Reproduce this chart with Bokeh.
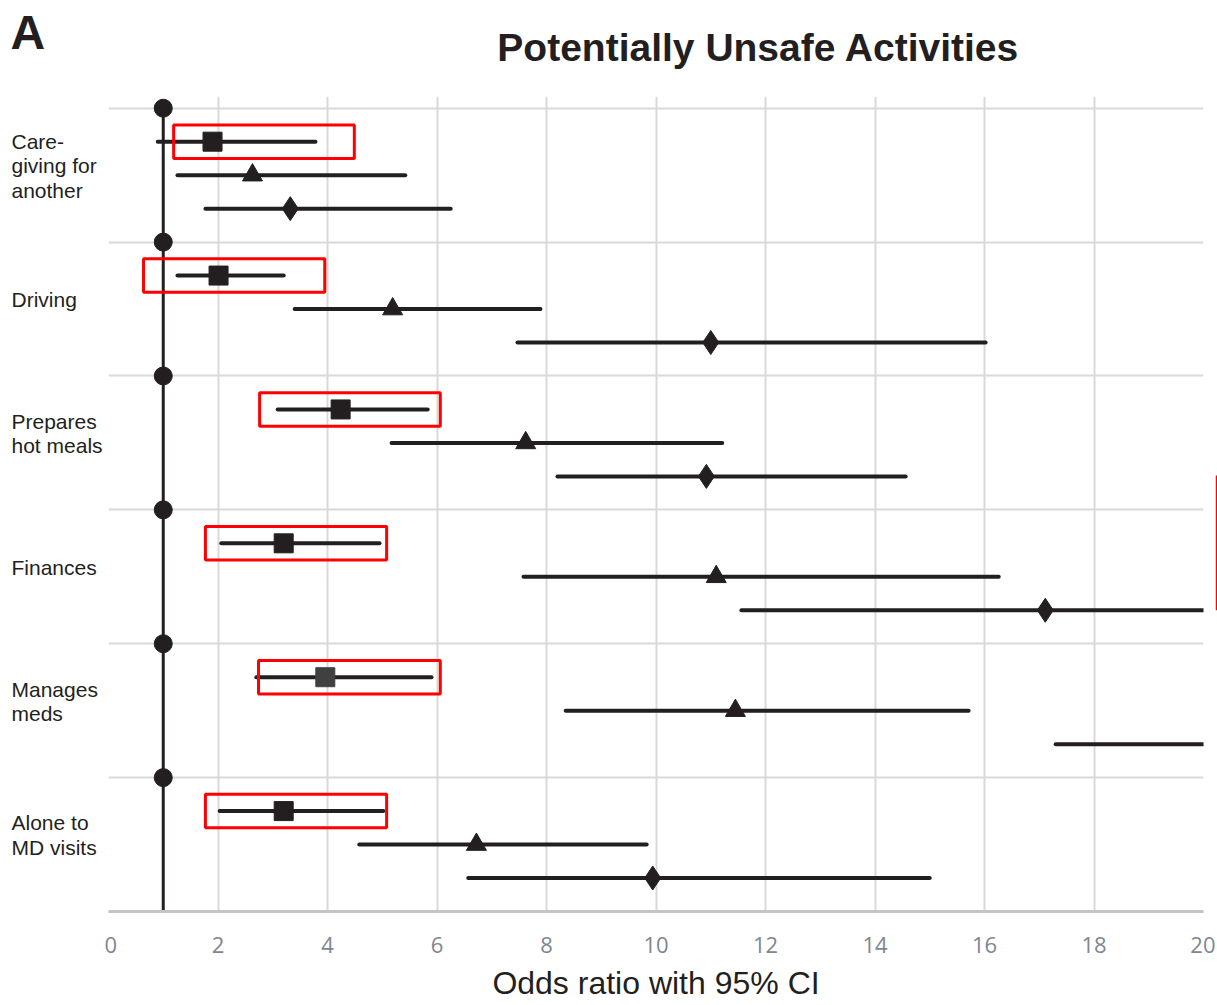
from bokeh.plotting import figure
from bokeh.layouts import column, row
from bokeh.models import ColumnDataSource, FixedTicker, Range1d
from bokeh.embed import file_html
from bokeh.resources import INLINE
from bokeh.core.properties import value

# ---- data ----
activities = ["Care-\ngiving for\nanother", "Driving", "Prepares\nhot meals",
              "Finances", "Manages\nmeds", "Alone to\nMD visits"]
ref_or = 1.0
sq_or = [1.90, 2.01, 4.24, 3.20, 3.96, 3.20]
sq_lo = [0.90, 1.26, 3.09, 2.06, 2.70, 2.03]
sq_hi = [3.78, 3.20, 5.83, 4.95, 5.90, 5.02]
tri_or = [2.63, 5.19, 7.62, 11.10, 11.45, 6.72]
tri_lo = [1.26, 3.40, 5.17, 7.58, 8.35, 4.58]
tri_hi = [5.42, 7.89, 11.21, 16.26, 15.71, 9.83]
dia_or = [3.32, 11.00, 10.92, 17.11, 24.00, 9.94]
dia_lo = [1.77, 7.47, 8.20, 11.56, 17.30, 6.57]
dia_hi = [6.25, 16.02, 14.56, 25.00, 36.00, 15.00]
# red highlight boxes around the first series
box_lo = [1.19, 0.64, 2.76, 1.77, 2.74, 1.77]
box_hi = [4.49, 3.95, 6.06, 5.08, 6.06, 5.08]
x_ticks = [0, 2, 4, 6, 8, 10, 12, 14, 16, 18, 20]
title_text = "Potentially Unsafe Activities"
panel_letter = "A"
x_label = "Odds ratio with 95% CI"

n = len(activities)
group_top = [4 * (n - i) for i in range(n)]          # 24, 20, ... 4
row_sq = [g - 1 for g in group_top]
row_tri = [g - 2 for g in group_top]
row_dia = [g - 3 for g in group_top]

INK = "#231f20"
FONT = "Liberation Sans"
HEADER_H = 96
BOTTOM = 94
MAIN_H = 815 + BOTTOM
LEFT_W = 104
MAIN_BL = 4
MAIN_BR = 12
RIGHT_W = 2
MAIN_W = 1217 - LEFT_W - RIGHT_W   # frame of 1095 px for 0..20

def bare(fig):
    fig.outline_line_color = None
    fig.xaxis.visible = False
    fig.yaxis.visible = False
    fig.xgrid.visible = False
    fig.ygrid.visible = False
    fig.background_fill_color = "white"
    fig.border_fill_color = "white"
    return fig

yr = Range1d(0, 24.35)

# ---- header: panel letter and title ----
head = bare(figure(width=1217, height=HEADER_H, output_backend="svg", toolbar_location=None,
                   x_range=Range1d(0, 1217), y_range=Range1d(0, HEADER_H),
                   min_border=0))
head.text(x=[10], y=[HEADER_H - 32], text=[panel_letter], text_align="left",
          text_baseline="middle", text_font=value(FONT), text_font_size="48px",
          text_font_style="bold", text_color=INK)
head.text(x=[758], y=[HEADER_H - 47], text=[title_text], text_align="center",
          text_baseline="middle", text_font=value(FONT), text_font_size="39px",
          text_font_style="bold", text_color=INK)

# ---- left: category labels ----
left = bare(figure(width=LEFT_W, height=MAIN_H, output_backend="svg", toolbar_location=None,
                   x_range=Range1d(0, LEFT_W), y_range=yr,
                   min_border_left=0, min_border_right=0, min_border_top=0,
                   min_border_bottom=BOTTOM))
left.text(x=[11] * n, y=[r + 0.28 for r in row_tri], text=activities, text_align="left",
          text_baseline="middle", text_font=value(FONT), text_font_size="21px",
          text_color=INK, text_line_height=1.066)

# ---- main plot ----
p = figure(width=MAIN_W, height=MAIN_H, output_backend="svg", toolbar_location=None,
           x_range=Range1d(0, 20), y_range=yr,
           min_border_left=MAIN_BL, min_border_right=MAIN_BR, min_border_top=0,
           min_border_bottom=BOTTOM)
p.outline_line_color = None
p.background_fill_color = "white"
p.border_fill_color = "white"
p.yaxis.visible = False
p.ygrid.ticker = FixedTicker(ticks=[0, 4, 8, 12, 16, 20, 24])
p.xaxis.ticker = FixedTicker(ticks=x_ticks)
p.xgrid.ticker = FixedTicker(ticks=x_ticks)
for g in (p.xgrid, p.ygrid):
    g.grid_line_color = "#d9d9d9"
    g.grid_line_width = 2

ax = p.xaxis[0]
ax.axis_line_color = "#c4c4c4"
ax.axis_line_width = 3
ax.major_tick_line_color = None
ax.minor_tick_line_color = None
ax.major_tick_out = 0
ax.major_tick_in = 0
ax.major_label_standoff = 25
ax.major_label_text_font = "Open Sans"
ax.major_label_text_font_size = "22px"
ax.major_label_text_color = "#7f8690"
ax.axis_label = x_label
ax.axis_label_text_font = FONT
ax.axis_label_text_font_size = "32px"
ax.axis_label_text_font_style = "normal"
ax.axis_label_text_color = INK
ax.axis_label_standoff = 9

# reference line at OR = 1 with circles
p.segment(x0=[ref_or], y0=[0], x1=[ref_or], y1=[24], line_color=INK, line_width=3)
p.scatter(x=[ref_or] * n, y=group_top, size=18, marker="circle", fill_color=INK, line_color=INK)

sq_colors = [INK, INK, INK, INK, "#404040", INK]
src_sq = ColumnDataSource(dict(orv=sq_or, lo=sq_lo, hi=sq_hi, y=row_sq, c=sq_colors))
src_tri = ColumnDataSource(dict(orv=tri_or, lo=tri_lo, hi=tri_hi, y=row_tri))
src_dia = ColumnDataSource(dict(orv=dia_or, lo=dia_lo, hi=dia_hi, y=row_dia))
for src in (src_sq, src_tri, src_dia):
    p.segment(x0="lo", y0="y", x1="hi", y1="y", source=src,
              line_color=INK, line_width=4, line_cap="round")
p.scatter(x="orv", y="y", source=src_sq, marker="square", size=19,
          fill_color="c", line_color="c")
p.scatter(x="orv", y="y", source=src_tri, marker="triangle", size=20,
          fill_color=INK, line_color=INK)
p.scatter(x="orv", y="y", source=src_dia, marker="diamond", size=24,
          fill_color=INK, line_color=INK)

# red highlight boxes
p.quad(left=box_lo, right=box_hi,
       bottom=[r - 0.5 for r in row_sq], top=[r + 0.5 for r in row_sq],
       fill_color=None, line_color="#ff0000", line_width=3)

# ---- right margin with the stray red mark ----
right = bare(figure(width=RIGHT_W, height=MAIN_H, output_backend="svg", toolbar_location=None,
                    x_range=Range1d(0, RIGHT_W), y_range=yr,
                    min_border_left=0, min_border_right=0, min_border_top=0,
                    min_border_bottom=BOTTOM))
right.segment(x0=[1], y0=[9.0], x1=[1], y1=[13.03], line_color="#ff0000", line_width=2)

layout = column(head, row(left, p, right, spacing=0), spacing=0)
open("out.html", "w").write(file_html(layout, INLINE))
